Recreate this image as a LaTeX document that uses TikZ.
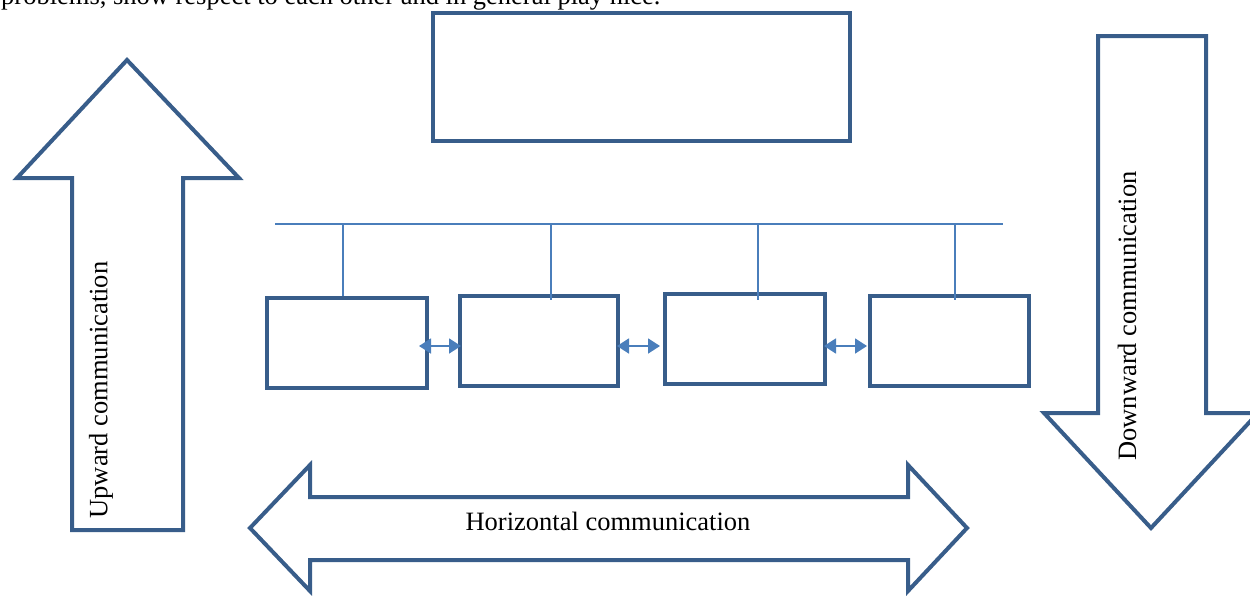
\documentclass[tikz,border=0pt]{standalone}
\usepackage{fontspec}
\setmainfont{Liberation Serif}
\usetikzlibrary{arrows.meta}
\definecolor{dkblue}{RGB}{56,93,138}
\definecolor{ltblue}{RGB}{74,126,187}
\tikzset{
  bigbox/.style={draw=dkblue,line width=4pt,fill=white},
  bigarrow/.style={draw=dkblue,line width=4pt,line join=miter},
  link/.style={draw=ltblue,line width=1.3pt},
  twoway/.style={draw=ltblue,line width=1.8pt,{Triangle[length=12pt,width=15pt]}-{Triangle[length=12pt,width=15pt]}},
  lbl/.style={font=\fontsize{26.5}{28}\selectfont,inner sep=0pt}
}
\begin{document}
\begin{tikzpicture}[x=1pt,y=-1pt]
\useasboundingbox (0,0) rectangle (1250,595);
% clipped paragraph line
\node[lbl,anchor=base west] (para) at (1,4) {problems, show respect to each other and in general play nice.};
% top box
\node[bigbox,minimum width=417pt,minimum height=128pt,anchor=north west] (top) at (431,11) {};
% up arrow
\draw[bigarrow] (127,60) -- (239,178) -- (183,178) -- (183,530) -- (72,530) -- (72,178) -- (17,178) -- cycle;
\node[lbl,rotate=90] (up) at (101,390) {Upward communication};
% down arrow
\draw[bigarrow] (1098,36) -- (1206,36) -- (1206,413) -- (1258,413) -- (1151,528) -- (1044,413) -- (1098,413) -- cycle;
\node[lbl,rotate=90] (down) at (1127,316) {Downward communication};
% horizontal arrow
\draw[bigarrow] (250,528) -- (310,465) -- (310,497) -- (908,497) -- (908,465) -- (967,528) -- (908,591) -- (908,560) -- (310,560) -- (310,591) -- cycle;
\node[lbl] (horiz) at (608,521) {Horizontal communication};
% bus line
\coordinate (busl) at (275,224);
\coordinate (busr) at (1003,224);
\draw[link] (busl) -- (busr);
% boxes
\node[bigbox,minimum width=160pt,minimum height=90pt,anchor=north west] (b1) at (265,296) {};
\node[bigbox,minimum width=158pt,minimum height=90pt,anchor=north west] (b2) at (458,294) {};
\node[bigbox,minimum width=160pt,minimum height=90pt,anchor=north west] (b3) at (663,292) {};
\node[bigbox,minimum width=159pt,minimum height=90pt,anchor=north west] (b4) at (868,294) {};
% drops
\coordinate (d1) at (343,224); \coordinate (e1) at (343,296);
\coordinate (d2) at (551,224); \coordinate (e2) at (551,300);
\coordinate (d3) at (758,224); \coordinate (e3) at (758,300);
\coordinate (d4) at (955,224); \coordinate (e4) at (955,300);
\draw[link] (d1) -- (e1);
\draw[link] (d2) -- (e2);
\draw[link] (d3) -- (e3);
\draw[link] (d4) -- (e4);
% two-way arrows
\coordinate (a1) at (419,346); \coordinate (a2) at (461,346);
\coordinate (a3) at (617,346); \coordinate (a4) at (660,346);
\coordinate (a5) at (824,346); \coordinate (a6) at (867,346);
\draw[twoway] (a1) -- (a2);
\draw[twoway] (a3) -- (a4);
\draw[twoway] (a5) -- (a6);
\end{tikzpicture}
\end{document}
